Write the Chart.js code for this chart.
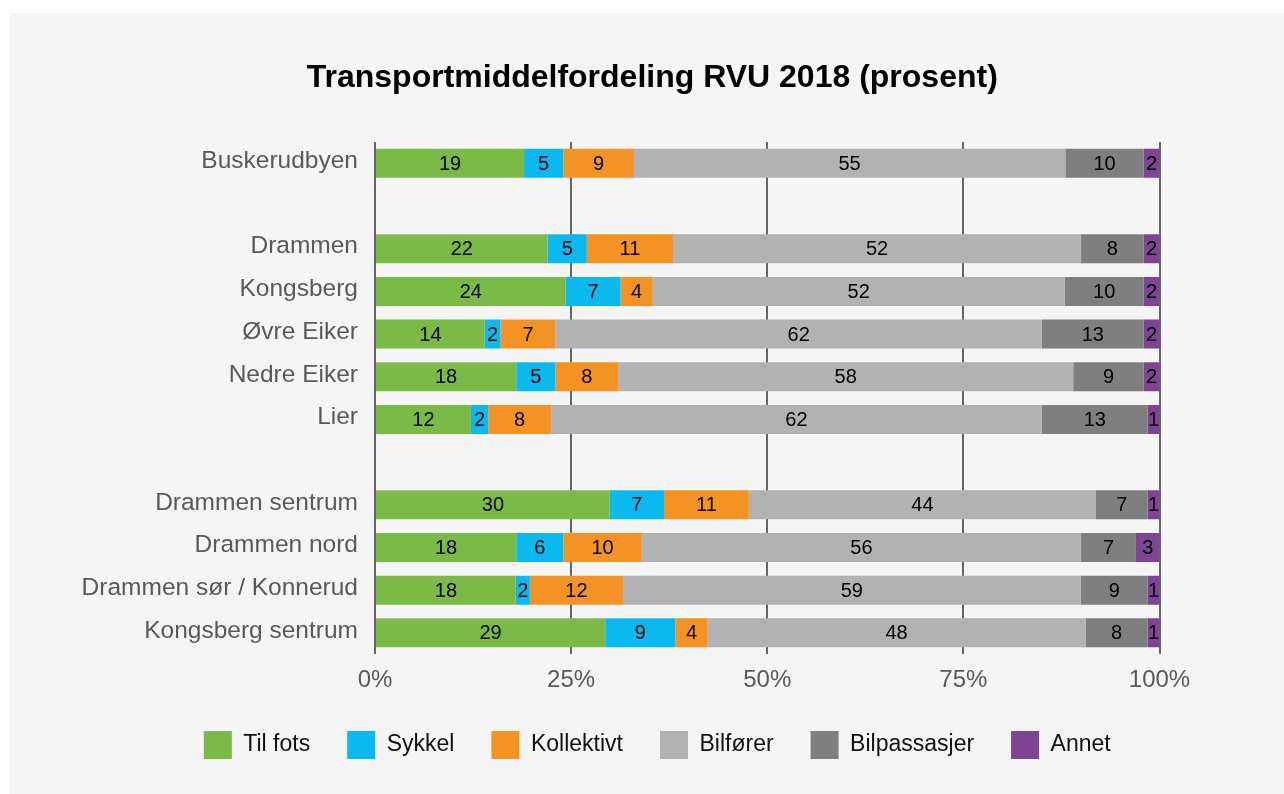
<!DOCTYPE html>
<html lang="no">
<head>
<meta charset="utf-8">
<title>Transportmiddelfordeling RVU 2018</title>
<script src="https://cdn.jsdelivr.net/npm/chart.js@4.4.0/dist/chart.umd.min.js"></script>
<style>
  html, body { margin: 0; padding: 0; background: #fff; }
  #wrap { position: absolute; left: 9px; top: 13px; width: 1275px; height: 781px; background: #f5f5f5; }
</style>
</head>
<body>
<div id="wrap"><canvas id="rvuChart" width="1275" height="781"></canvas></div>
<script>
// kategorier (tomme rader gir luft mellom gruppene)
const categories = [
  "Buskerudbyen", "",
  "Drammen", "Kongsberg", "Øvre Eiker", "Nedre Eiker", "Lier", "",
  "Drammen sentrum", "Drammen nord", "Drammen sør / Konnerud", "Kongsberg sentrum"
];

// andeler i prosent, anslått fra figuren (etikettene viser avrundet verdi)
const tilFots      = [19, null, 22, 24.3, 14, 18, 12.2, null, 29.9, 18, 18.0, 29.2];
const sykkel       = [ 5, null,  5,  7.0,  2,  5,  2.2, null,  6.9,  6,  1.8,  8.9];
const kollektivt   = [ 9, null, 11,  4.1,  7,  8,  8.0, null, 10.8, 10, 11.9,  4.1];
const bilforer     = [55, null, 52, 52.49, 62, 58, 62.4, null, 44.2, 56, 58.5, 47.9];
const bilpassasjer = [10, null,  8, 10.1, 13,  9, 13.49, null, 6.6,  7,  8.6,  7.9];
const annet        = [ 2, null,  2,  2.0,  2,  2,  1.49, null, 1.49, 3,  1.49, 1.49];

const xTicks = [0, 25, 50, 75, 100];

const series = [
  { label: "Til fots",     values: tilFots,      color: "#7cba48" },
  { label: "Sykkel",       values: sykkel,       color: "#0cb9ee" },
  { label: "Kollektivt",   values: kollektivt,   color: "#f39325" },
  { label: "Bilfører",     values: bilforer,     color: "#b2b2b2" },
  { label: "Bilpassasjer", values: bilpassasjer, color: "#7f7f7f" },
  { label: "Annet",        values: annet,        color: "#7d4593" },
];

// hver rad fylles ut til 100 %
const rowTotals = categories.map((c, j) =>
  series.reduce((s, ser) => s + (ser.values[j] || 0), 0));

const FONT = "'Liberation Sans', Arial, Helvetica, sans-serif";

// tallene inne i hvert segment
const segmentLabels = {
  id: "segmentLabels",
  afterDatasetsDraw(chart) {
    const ctx = chart.ctx;
    ctx.save();
    ctx.font = "20px " + FONT;
    ctx.fillStyle = "#000";
    ctx.textAlign = "center";
    ctx.textBaseline = "middle";
    chart.data.datasets.forEach((ds, i) => {
      const meta = chart.getDatasetMeta(i);
      meta.data.forEach((bar, j) => {
        const v = series[i].values[j];
        if (v == null) return;
        const p = bar.getProps(["x", "y", "base"], true);
        ctx.fillText(String(Math.round(v)), (p.x + p.base) / 2, p.y + 1);
      });
    });
    ctx.restore();
  }
};

// tittel og legende er sentrert på hele figuren, ikke bare plottet
const shiftBoxes = {
  id: "shiftBoxes",
  afterLayout(chart) {
    const lg = chart.legend;
    if (lg) {
      lg.left += 73;
      lg.right += 73;
      lg.top -= 13;
      lg.bottom -= 13;
      lg.adjustHitBoxes && lg.adjustHitBoxes();
    }
    const tt = chart.titleBlock;
    if (tt) {
      tt.left += 68;
      tt.right += 68;
    }
  }
};

const ctx = document.getElementById("rvuChart");

new Chart(ctx, {
  type: "bar",
  data: {
    labels: categories,
    datasets: series.map(s => ({
      label: s.label,
      data: s.values.map((v, j) => v == null ? null : v / rowTotals[j] * 100),
      backgroundColor: s.color,
      borderWidth: 0,
      barPercentage: 0.68,
      categoryPercentage: 1,
    })),
  },
  options: {
    indexAxis: "y",
    responsive: false,
    animation: false,
    layout: { padding: { left: 0, right: 124.5, top: 0, bottom: 12 } },
    scales: {
      x: {
        stacked: true,
        min: 0,
        max: 100,
        afterBuildTicks: (scale) => { scale.ticks = xTicks.map(v => ({ value: v })); },
        ticks: {
          callback: v => v + "%",
          color: "#595959",
          font: { family: FONT, size: 24 },
          padding: 12,
          maxRotation: 0,
        },
        grid: { color: "#666666", lineWidth: 2, drawTicks: false },
        border: { display: false },
      },
      y: {
        stacked: true,
        afterFit: (scale) => { scale.width = 366; },
        ticks: {
          color: "#595959",
          font: { family: FONT, size: 24.5 },
          padding: 9,
          labelOffset: -2,
          autoSkip: false,
        },
        grid: { display: false },
        border: { display: false },
      },
    },
    plugins: {
      title: {
        display: true,
        text: "Transportmiddelfordeling RVU 2018 (prosent)",
        color: "#000",
        font: { family: FONT, size: 32, weight: "bold" },
        padding: { top: 45.8, bottom: 44.8 },
      },
      legend: {
        position: "bottom",
        labels: {
          boxWidth: 28,
          boxHeight: 28,
          padding: 37,
          color: "#111",
          font: { family: FONT, size: 23 },
        },
      },
      tooltip: { enabled: false },
    },
  },
  plugins: [segmentLabels, shiftBoxes],
});
</script>
</body>
</html>
